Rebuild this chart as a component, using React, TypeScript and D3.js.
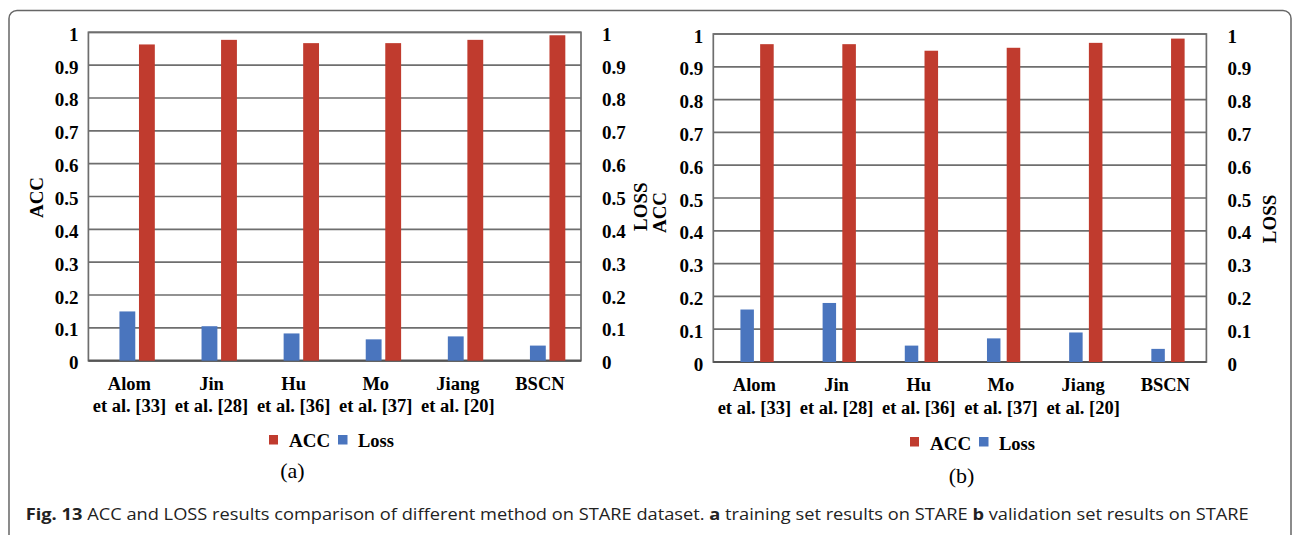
import React from "react";
import * as d3 from "d3";

// ---- data ----
const categoryLine1 = ["Alom", "Jin", "Hu", "Mo", "Jiang", "BSCN"];
const categoryLine2 = ["et al. [33]", "et al. [28]", "et al. [36]", "et al. [37]", "et al. [20]", ""];
const accTrain = [0.963, 0.977, 0.967, 0.967, 0.977, 0.991];
const lossTrain = [0.15, 0.105, 0.083, 0.065, 0.074, 0.046];
const accVal = [0.969, 0.969, 0.949, 0.958, 0.973, 0.986];
const lossVal = [0.16, 0.18, 0.05, 0.072, 0.09, 0.04];
const yTicks = [0, 0.1, 0.2, 0.3, 0.4, 0.5, 0.6, 0.7, 0.8, 0.9, 1];
const yTickLabels = ["0", "0.1", "0.2", "0.3", "0.4", "0.5", "0.6", "0.7", "0.8", "0.9", "1"];
const seriesNames = ["ACC", "Loss"];
const leftTitle = "ACC";
const rightTitle = "LOSS";

const RED = "#C03B2E";
const BLUE = "#4A75BE";
const GRID = "#6e6e6e";
const SERIF = "'Liberation Serif', 'Times New Roman', serif";

type PanelProps = {
  acc: number[];
  loss: number[];
  x0: number; x1: number; yTop: number; yBot: number;
  blueF: [number, number]; redF: [number, number];
  leftTitleX: number; leftTitleY: number;
  rightTitleX: number; rightTitleY: number;
  legendX: number; legendY: number; legendBaseline: number;
  subLabel: string; subX: number; subY: number;
};

function Panel(p: PanelProps) {
  const x = d3.scaleBand<string>().domain(categoryLine1).range([p.x0, p.x1]).padding(0);
  const bw = x.bandwidth();
  const frac = d3.scaleLinear().domain([0, 1]).range([0, bw]);
  const yL = d3.scaleLinear().domain([0, 1]).range([p.yBot, p.yTop]);
  const yR = d3.scaleLinear().domain([0, 1]).range([p.yBot, p.yTop]);
  const fs = 18.5;
  return (
    <g>
      {/* gridlines */}
      {yTicks.map((t, i) => (
        <line key={"g" + i} x1={p.x0} x2={p.x1} y1={yL(t)} y2={yL(t)} stroke={GRID} strokeWidth={1.7} />
      ))}
      <rect x={p.x0} y={p.yTop} width={p.x1 - p.x0} height={p.yBot - p.yTop} fill="none" stroke={GRID} strokeWidth={1.7} />
      <line x1={p.x0} x2={p.x1} y1={p.yBot} y2={p.yBot} stroke="#555" strokeWidth={2} />
      {/* bars */}
      {categoryLine1.map((c, i) => {
        const bx = x(c)!;
        return (
          <g key={"b" + i}>
            <rect x={bx + frac(p.blueF[0])} width={frac(p.blueF[1]) - frac(p.blueF[0])}
              y={yR(p.loss[i])} height={yR(0) - yR(p.loss[i])} fill={BLUE} />
            <rect x={bx + frac(p.redF[0])} width={frac(p.redF[1]) - frac(p.redF[0])}
              y={yL(p.acc[i])} height={yL(0) - yL(p.acc[i])} fill={RED} />
          </g>
        );
      })}
      {/* left tick labels */}
      {yTicks.map((t, i) => (
        <text key={"l" + i} x={p.x0 - 10} y={yL(t) + 2} textAnchor="end" dominantBaseline="central"
          fontFamily={SERIF} fontWeight="bold" fontSize={19}>{yTickLabels[i]}</text>
      ))}
      {yTicks.map((t, i) => (
        <text key={"r" + i} x={p.x1 + 21} y={yR(t) + 2} textAnchor="start" dominantBaseline="central"
          fontFamily={SERIF} fontWeight="bold" fontSize={19}>{yTickLabels[i]}</text>
      ))}
      {/* category labels */}
      {categoryLine1.map((c, i) => (
        <g key={"c" + i}>
          <text x={x(c)! + bw / 2} y={p.yBot + 29} textAnchor="middle" fontFamily={SERIF} fontWeight="bold" fontSize={fs}>{c}</text>
          <text x={x(c)! + bw / 2} y={p.yBot + 51.5} textAnchor="middle" fontFamily={SERIF} fontWeight="bold" fontSize={fs}>{categoryLine2[i]}</text>
        </g>
      ))}
      {/* axis titles */}
      <text transform={`translate(${p.leftTitleX},${p.leftTitleY}) rotate(-90)`} textAnchor="middle" dominantBaseline="central"
        fontFamily={SERIF} fontWeight="bold" fontSize={19}>{leftTitle}</text>
      <text transform={`translate(${p.rightTitleX},${p.rightTitleY}) rotate(-90)`} textAnchor="middle" dominantBaseline="central"
        fontFamily={SERIF} fontWeight="bold" fontSize={19}>{rightTitle}</text>
      {/* legend */}
      <rect x={p.legendX} y={p.legendY} width={9} height={9.5} fill={RED} />
      <text x={p.legendX + 20} y={p.legendBaseline} fontFamily={SERIF} fontWeight="bold" fontSize={19}>{seriesNames[0]}</text>
      <rect x={p.legendX + 69} y={p.legendY} width={9.5} height={9.5} fill={BLUE} />
      <text x={p.legendX + 89} y={p.legendBaseline} fontFamily={SERIF} fontWeight="bold" fontSize={18.5}>{seriesNames[1]}</text>
      {/* sub label */}
      <text x={p.subX} y={p.subY} textAnchor="middle" fontFamily={SERIF} fontSize={22}>{p.subLabel}</text>
    </g>
  );
}

export default function App() {
  return (
    <svg width={1293} height={535} style={{ position: "absolute", left: 0, top: 0, background: "#fff" }}>
      <rect x={0} y={0} width={1293} height={535} fill="#fff" />
      <rect x={9} y={10.5} width={1282} height={620} rx={8} fill="none" stroke="#666" strokeWidth={1.5} />
      <Panel acc={accTrain} loss={lossTrain}
        x0={88.4} x1={581} yTop={32.3} yBot={360.7}
        blueF={[0.378, 0.571]} redF={[0.616, 0.809]}
        leftTitleX={36} leftTitleY={197.5} rightTitleX={640} rightTitleY={206.7}
        legendX={269} legendY={435} legendBaseline={447}
        subLabel="(a)" subX={292.5} subY={478} />
      <Panel acc={accVal} loss={lossVal}
        x0={713.3} x1={1206.4} yTop={34} yBot={362}
        blueF={[0.33, 0.494]} redF={[0.57, 0.735]}
        leftTitleX={659.5} leftTitleY={212.5} rightTitleX={1269.5} rightTitleY={219}
        legendX={910} legendY={437} legendBaseline={450}
        subLabel="(b)" subX={961.5} subY={483} />
      <text x={25.7} y={520} fontFamily="'Open Sans', 'Noto Sans', sans-serif" fontSize={16.5} fill="#222"
        textLength={1223} lengthAdjust="spacingAndGlyphs">
        <tspan fontWeight="bold">Fig. 13</tspan>
        <tspan> ACC and LOSS results comparison of different method on STARE dataset. </tspan>
        <tspan fontWeight="bold">a</tspan>
        <tspan> training set results on STARE </tspan>
        <tspan fontWeight="bold">b</tspan>
        <tspan> validation set results on STARE</tspan>
      </text>
    </svg>
  );
}
